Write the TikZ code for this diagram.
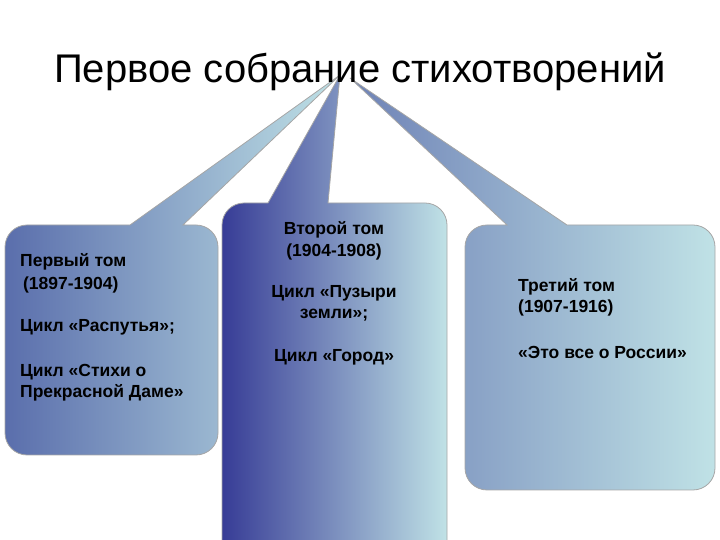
\documentclass[tikz,border=0pt]{standalone}
\usepackage{fontspec}
\setmainfont{Liberation Sans}
\definecolor{dk}{RGB}{55,60,150}
\definecolor{lt}{RGB}{192,226,230}
\definecolor{mdl}{RGB}{90,110,172}
\definecolor{mdr}{RGB}{110,130,182}
\newcommand\myballoon[9]{% l r t b x1 x2 tipx tipy leftcolor
  \shade[left color=#9,right color=lt,draw=gray!70,line width=0.8pt]
    (#5,#3) -- (#7,#8) -- (#6,#3) -- ({#2-22},#3) arc[start angle=90,end angle=0,radius=22]
    -- (#2,{#4+22}) arc[start angle=0,end angle=-90,radius=22]
    -- ({#1+22},#4) arc[start angle=270,end angle=180,radius=22]
    -- (#1,{#3-22}) arc[start angle=180,end angle=90,radius=22] -- cycle;}
\tikzset{txt/.style={font=\bfseries\fontsize{17.5}{20}\selectfont,inner sep=0pt}}
\begin{document}
\begin{tikzpicture}[x=1pt,y=1pt]
\useasboundingbox (0,0) rectangle (720,540);
\begin{scope}
\clip (0,0) rectangle (720,540);
\myballoon{5}{218}{315}{85}{130}{183}{340}{465}{mdl}
\myballoon{465}{715}{315}{50}{507}{567}{350}{462}{mdr}
\myballoon{222}{447}{337}{-30}{268}{328}{340}{465}{dk}
\end{scope}
\node[font=\fontsize{40}{44}\selectfont,inner sep=0pt] (title) at (360,468) {Первое собрание стихотворений};
\node[txt,anchor=west] (l1) at (20,278) {Первый том};
\node[txt,anchor=west] (l2) at (20,255) {\,(1897-1904)};
\node[txt,anchor=west] (l3) at (20,213) {Цикл «Распутья»;};
\node[txt,anchor=west] (l4) at (20,168) {Цикл «Стихи о};
\node[txt,anchor=west] (l5) at (20,147) {Прекрасной Даме»};
\node[txt] (m1) at (334,310) {Второй том};
\node[txt] (m2) at (334,288) {(1904-1908)};
\node[txt] (m3) at (334,247) {Цикл «Пузыри};
\node[txt] (m4) at (334,225) {земли»;};
\node[txt] (m5) at (334,183) {Цикл «Город»};
\node[txt,anchor=west] (r1) at (518,253) {Третий том};
\node[txt,anchor=west] (r2) at (518,232) {(1907-1916)};
\node[txt,anchor=west] (r3) at (518,188) {«Это все о России»};
\end{tikzpicture}
\end{document}
